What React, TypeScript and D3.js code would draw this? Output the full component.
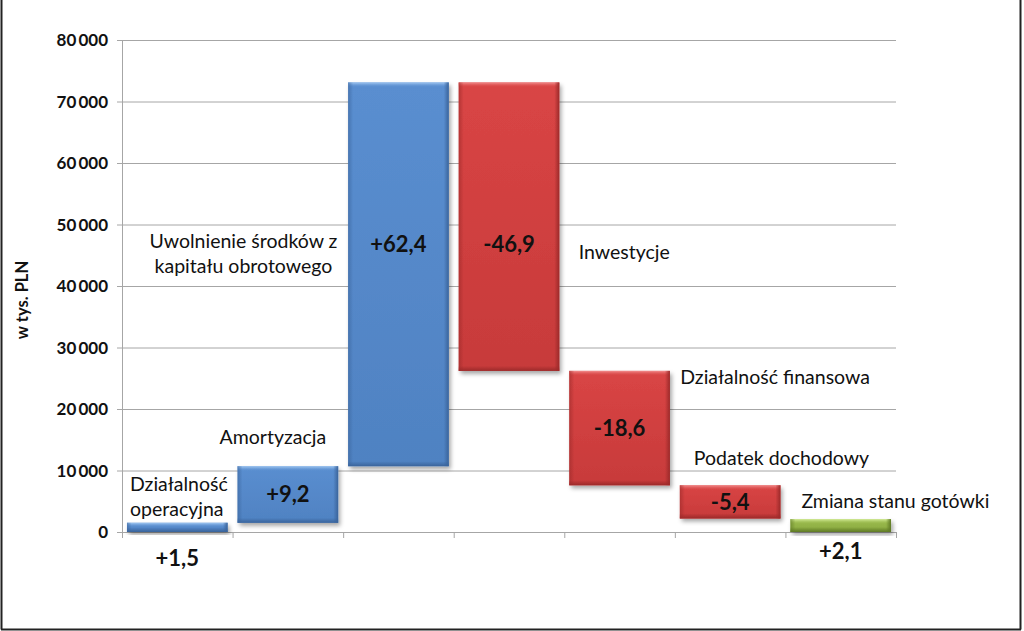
import React from "react";
import * as d3 from "d3";

const categories = ["Działalność operacyjna", "Amortyzacja", "Uwolnienie środków z kapitału obrotowego", "Inwestycje", "Działalność finansowa", "Podatek dochodowy", "Zmiana stanu gotówki"];
const deltas = [1500, 9200, 62400, -46900, -18600, -5400, 2100];
const isTotal = [false, false, false, false, false, false, true];
const valueLabels = ["+1,5", "+9,2", "+62,4", "-46,9", "-18,6", "-5,4", "+2,1"];
const categoryLines = [
  ["Działalność", "operacyjna"],
  ["Amortyzacja"],
  ["Uwolnienie środków z", "kapitału obrotowego"],
  ["Inwestycje"],
  ["Działalność finansowa"],
  ["Podatek dochodowy"],
  ["Zmiana stanu gotówki"],
];
const yTicks = [0, 10000, 20000, 30000, 40000, 50000, 60000, 70000, 80000];
const yTitle = "w tys. PLN";

// layout (relative anchors for labels)
const catLabelLayout = [
  { dx: 3, dy: -32, anchor: "start" },
  { dx: -18, dy: -22, anchor: "start" },
  { dx: -155, dy: 166, anchor: "middle", cx: true },
  { dx: 120, dy: 177, anchor: "start" },
  { dx: 111, dy: 13, anchor: "start" },
  { dx: 14, dy: -20, anchor: "start" },
  { dx: 11, dy: -11, anchor: "start" },
];
const valLayout = [
  { pos: "below", y: 566 },
  { pos: "mid" },
  { pos: "fixed", y: 252 },
  { pos: "fixed", y: 252 },
  { pos: "mid" },
  { pos: "mid" },
  { pos: "below", y: 559 },
];

const W = 1024, H = 631;
const M = { left: 122, right: 896, top: 40, bottom: 532 };

const FONT = "Lato, 'Open Sans', sans-serif";

type Pal = { main: string; light: string; dark: string; mid2: string };
const palettes: Record<string, Pal> = {
  blue: { main: "#5a8ed0", light: "#a4caf3", dark: "#3a649b", mid2: "#4f82c2" },
  red: { main: "#d94545", light: "#f39090", dark: "#9c2a2a", mid2: "#c73a3a" },
  green: { main: "#9bbb4d", light: "#d6ee9c", dark: "#5f7a25", mid2: "#8bab40" },
};

export default function App() {
  const x = d3.scaleBand<string>().domain(categories).range([M.left, M.right]).paddingInner(0.09).paddingOuter(0.045);
  const y = d3.scaleLinear().domain([0, 80000]).range([M.bottom, M.top]);

  let cum = 0;
  const bars = categories.map((c, i) => {
    let y0: number, y1: number;
    if (isTotal[i]) {
      y0 = 0; y1 = deltas[i];
    } else {
      y0 = cum; y1 = cum + deltas[i]; cum = y1;
    }
    const lo = Math.min(y0, y1), hi = Math.max(y0, y1);
    const kind = isTotal[i] ? "green" : deltas[i] >= 0 ? "blue" : "red";
    return { c, i, lo, hi, kind };
  });

  const fmt = (v: number) => (v === 0 ? "0" : d3.format(",")(v).replace(/,/g, "\u2009"));

  const step = x.step();
  const tickXs = d3.range(categories.length + 1).map((k) => M.left + k * step);

  return (
    <svg width={W} height={H} style={{ position: "absolute", left: 0, top: 0, background: "#fff" }} fontFamily={FONT}>
      <defs>
        <filter id="shadow" x="-10%" y="-10%" width="130%" height="140%">
          <feDropShadow dx="2" dy="3" stdDeviation="2" floodColor="#000" floodOpacity="0.35" />
        </filter>
        {Object.entries(palettes).map(([k, p]) => (
          <React.Fragment key={k}>
            <linearGradient id={`body-${k}`} x1="0" y1="0" x2="0" y2="1">
              <stop offset="0" stopColor={p.main} />
              <stop offset="1" stopColor={p.mid2} />
            </linearGradient>
            <linearGradient id={`top-${k}`} x1="0" y1="0" x2="0" y2="1">
              <stop offset="0" stopColor={p.light} />
              <stop offset="1" stopColor={p.main} stopOpacity="0" />
            </linearGradient>
            <linearGradient id={`bot-${k}`} x1="0" y1="0" x2="0" y2="1">
              <stop offset="0" stopColor={p.dark} stopOpacity="0" />
              <stop offset="1" stopColor={p.dark} />
            </linearGradient>
            <linearGradient id={`right-${k}`} x1="0" y1="0" x2="1" y2="0">
              <stop offset="0" stopColor={p.dark} stopOpacity="0" />
              <stop offset="1" stopColor={p.dark} />
            </linearGradient>
            <linearGradient id={`left-${k}`} x1="0" y1="0" x2="1" y2="0">
              <stop offset="0" stopColor={p.dark} stopOpacity="0.6" />
              <stop offset="1" stopColor={p.dark} stopOpacity="0" />
            </linearGradient>
          </React.Fragment>
        ))}
      </defs>

      {/* frame */}
      <line x1={1.5} y1={0} x2={1.5} y2={629.5} stroke="#222" strokeWidth={2} />
      <line x1={1020.5} y1={0} x2={1020.5} y2={629.5} stroke="#222" strokeWidth={2} />
      <line x1={1} y1={629.5} x2={1021} y2={629.5} stroke="#222" strokeWidth={2} />

      {/* gridlines */}
      {yTicks.map((t) => (
        <g key={t}>
          {t > 0 && <line x1={M.left} x2={M.right} y1={y(t) + 0.5} y2={y(t) + 0.5} stroke="#a6a6a6" strokeWidth={1} />}
          <line x1={M.left - 5} x2={M.left} y1={y(t) + 0.5} y2={y(t) + 0.5} stroke="#a6a6a6" />
          <text x={M.left - 14} y={y(t) + 6} textAnchor="end" fontSize={17} fontWeight="bold" fill="#111">
            {fmt(t)}
          </text>
        </g>
      ))}
      <line x1={M.left + 0.5} x2={M.left + 0.5} y1={M.top} y2={M.bottom} stroke="#a6a6a6" />
      <line x1={M.left} x2={M.right} y1={M.bottom + 0.5} y2={M.bottom + 0.5} stroke="#a6a6a6" />
      {tickXs.map((tx, k) => (
        <line key={k} x1={tx + 0.5} x2={tx + 0.5} y1={M.bottom} y2={M.bottom + 6} stroke="#a6a6a6" />
      ))}

      <text transform={`translate(28,300) rotate(-90)`} textAnchor="middle" fontSize={16.5} fontWeight="bold" fill="#111">
        {yTitle}
      </text>

      {/* bars */}
      {bars.map((b) => {
        const bx = x(b.c)!;
        const bw = x.bandwidth();
        const by = y(b.hi);
        const bh = Math.max(y(b.lo) - y(b.hi), 1);
        const e = Math.min(5, bh / 2);
        const k = b.kind;
        return (
          <g key={b.c}>
            <rect x={bx} y={by} width={bw} height={bh} fill={`url(#body-${k})`} filter="url(#shadow)" />
            <rect x={bx} y={by} width={bw} height={e} fill={`url(#top-${k})`} />
            <rect x={bx} y={by + bh - e} width={bw} height={e} fill={`url(#bot-${k})`} />
            <rect x={bx + bw - e} y={by} width={e} height={bh} fill={`url(#right-${k})`} />
            <rect x={bx} y={by} width={e} height={bh} fill={`url(#left-${k})`} />
          </g>
        );
      })}

      {/* value labels */}
      {bars.map((b) => {
        const L = valLayout[b.i];
        const cx = x(b.c)! + x.bandwidth() / 2;
        let ty: number;
        if (L.pos === "mid") ty = (y(b.lo) + y(b.hi)) / 2 + 8;
        else ty = L.y!;
        return (
          <text key={b.c} x={cx} y={ty} textAnchor="middle" fontSize={22} fontWeight="bold" fill="#111">
            {valueLabels[b.i]}
          </text>
        );
      })}

      {/* category labels */}
      {bars.map((b) => {
        const L = catLabelLayout[b.i];
        const bx = x(b.c)!;
        const lines = categoryLines[b.i];
        const tx = L.cx ? bx + x.bandwidth() / 2 + L.dx : bx + L.dx;
        const ty = y(b.hi) + L.dy;
        return (
          <text key={b.c} x={tx} y={ty} textAnchor={L.anchor as any} fontSize={19.5} fill="#111">
            {lines.map((ln, j) => (
              <tspan key={j} x={tx} dy={j === 0 ? 0 : 25}>
                {ln}
              </tspan>
            ))}
          </text>
        );
      })}
    </svg>
  );
}
